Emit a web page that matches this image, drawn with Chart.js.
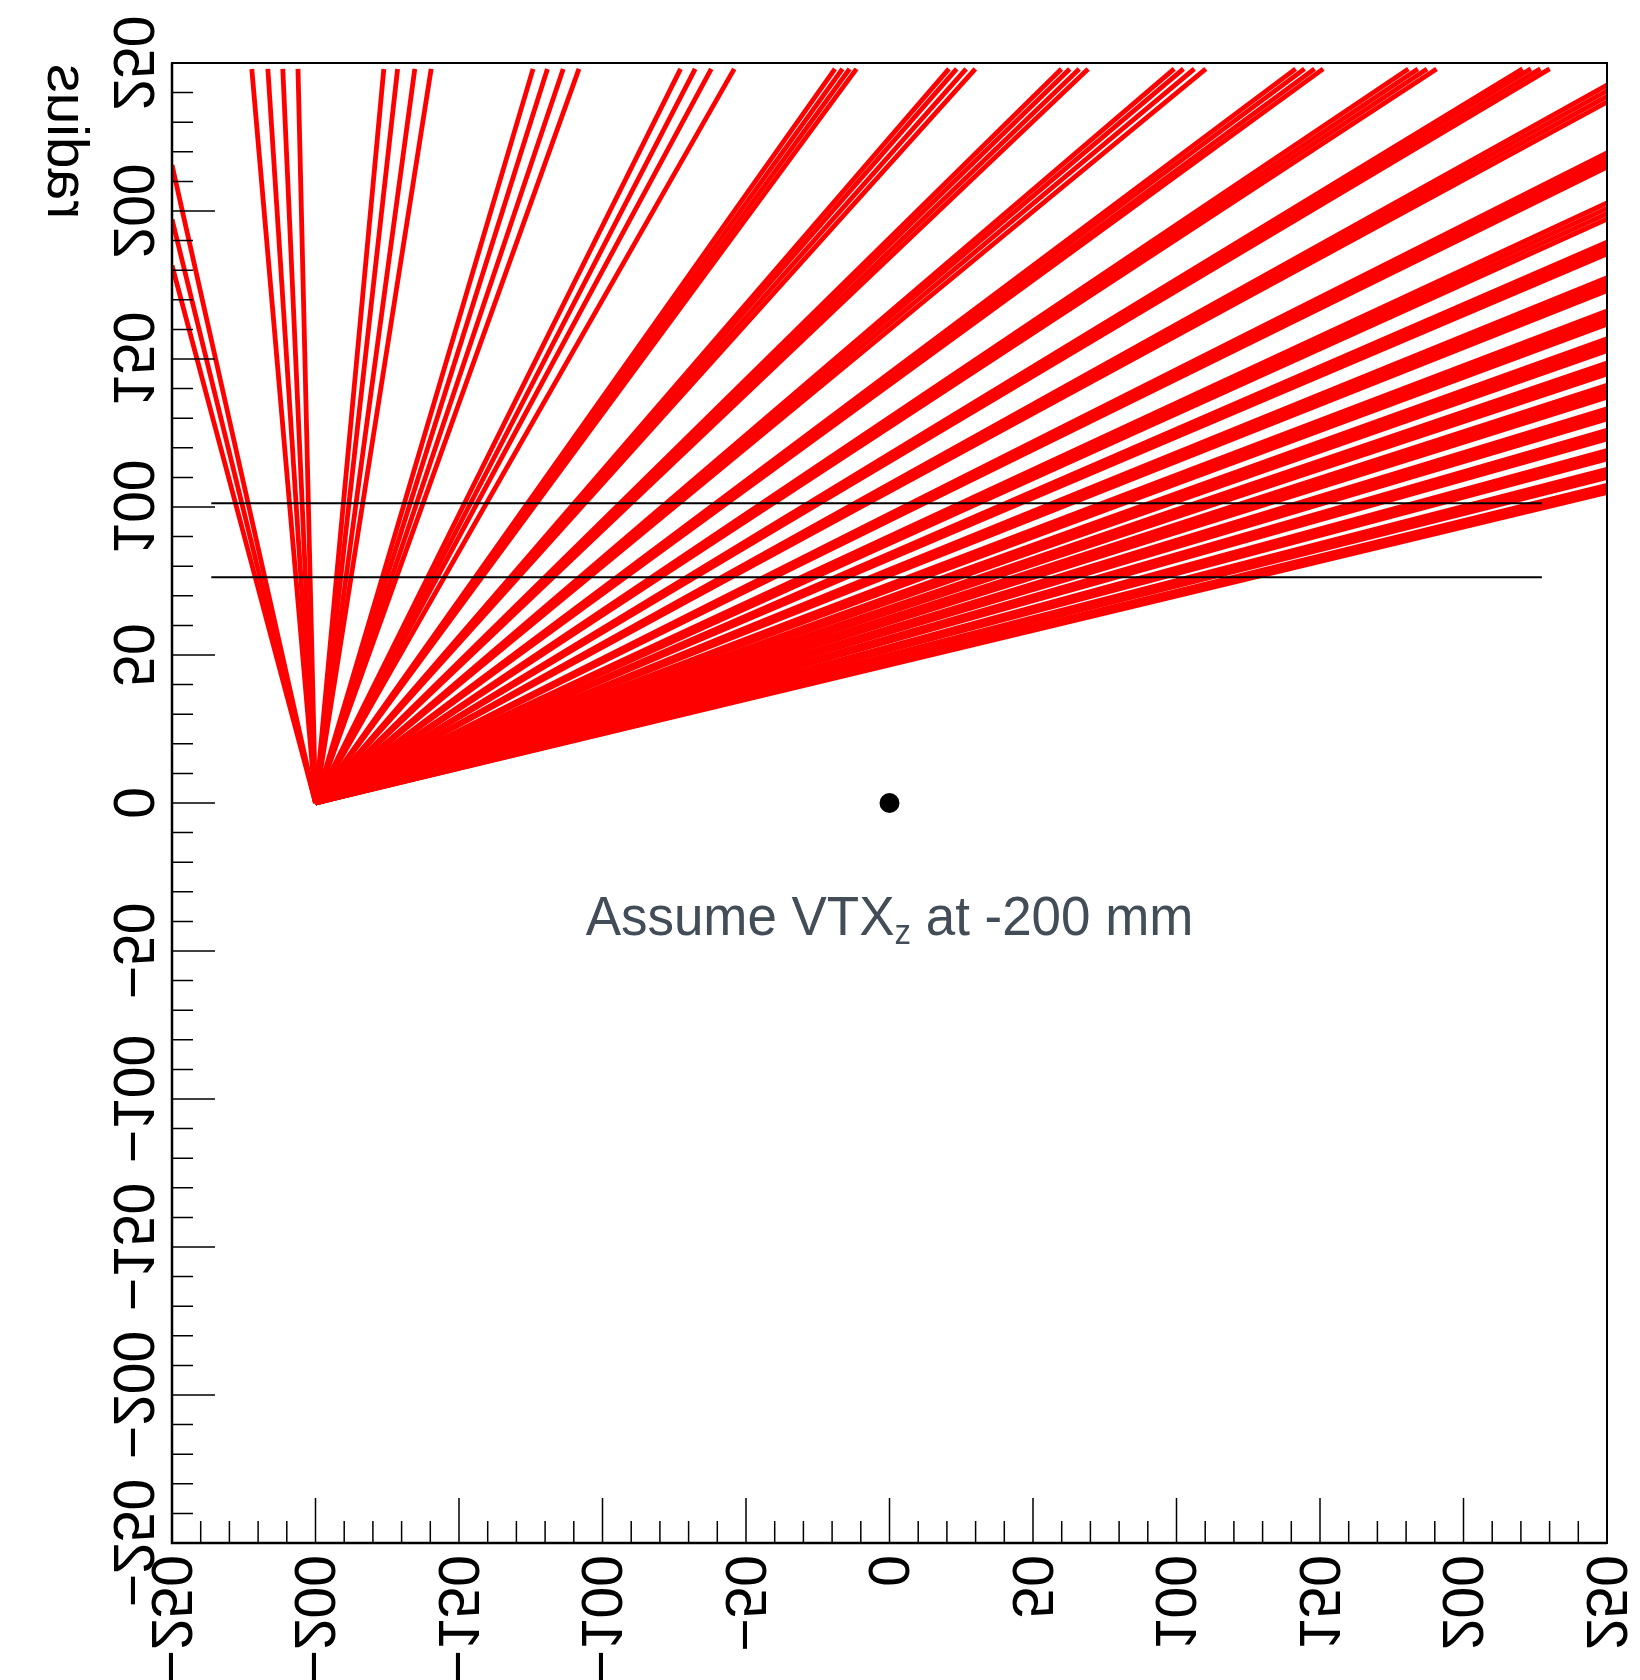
<!DOCTYPE html>
<html>
<head>
<meta charset="utf-8">
<script src="https://cdn.jsdelivr.net/npm/chart.js@4.4.1/dist/chart.umd.min.js"></script>
<style>
  html, body { margin: 0; padding: 0; background: #fff; }
  canvas { display: block; }
</style>
</head>
<body>
<canvas id="chart" width="1640" height="1680"></canvas>
<script>
// vertex of all tracks (z, radius) in mm
const vertexZ = -200;
const vertexR = 0;

// tracks leaving through the top (radius ~248): end z
const topR = 248;
const topEndZ = [
  -222.2, -216.6, -211.4, -206.1,
  -176.2, -171.4, -165.4, -159.7,
  -124.2, -119.2, -113.7, -108.2,
  -72.8, -67.7, -62.1, -54.1,
  -19.0, -16.4, -13.9, -11.5,
  20.7, 23.4, 26.7, 29.9,
  59.9, 62.8, 66.1, 69.2,
  99.2, 102.4, 106.2, 110.2,
  141.5, 144.6, 148.1, 151.1,
  180.8, 184.1, 187.3, 190.6,
  220.6, 223.5, 226.8, 230.0
];

// tracks leaving through the left side (z = -250): end radius
const leftZ = -250;
const leftEndR = [215.5, 197.2, 181.6];

// tracks leaving through the right side (z = 250): end radius
const rightZ = 250;
const rightEndR = [
  242.5, 240.6, 238.7, 236.8,
  219.6, 218.0, 216.4, 214.8,
  202.7, 200.9, 199.1, 197.3,
  189.5, 188.2, 186.8, 185.5,
  177.5, 176.0, 174.6, 173.1,
  166.2, 164.8, 163.3, 161.8,
  156.8, 155.5, 154.2, 152.8,
  148.6, 147.4, 146.2, 144.9,
  141.1, 139.8, 138.4, 137.1,
  133.2, 132.0, 130.9, 129.7,
  125.9, 124.9, 123.9, 123.0,
  119.1, 118.1, 117.2, 116.2,
  112.7, 111.8, 110.9, 110.0,
  107.3, 106.5, 105.6, 104.9
];

// two detector layers
const layerR = [101.3, 76.3];
const layerZ = [-236.3, 227.3];

// beam spot
const spotZ = [0];
const spotR = [0];

const xTicks = [-250, -200, -150, -100, -50, 0, 50, 100, 150, 200, 250];
const xTickLabels = ['\u2212250', '\u2212200', '\u2212150', '\u2212100', '\u221250', '0', '50', '100', '150', '200', '250'];
const yTicks = [-250, -200, -150, -100, -50, 0, 50, 100, 150, 200, 250];
const yTickLabels = ['\u2212250', '\u2212200', '\u2212150', '\u2212100', '\u221250', '0', '50', '100', '150', '200', '250'];

const labelFont = '57px "Liberation Sans", Arial, sans-serif';

function track(z, r) {
  return {
    data: [{ x: vertexZ, y: vertexR }, { x: z, y: r }],
    showLine: true,
    borderColor: '#ff0000',
    borderWidth: 4.8,
    pointRadius: 0,
    clip: 0,
    order: 2
  };
}

const datasets = [];
spotZ.forEach((z, i) => {
  datasets.push({
    data: [{ x: z, y: spotR[i] }],
    pointRadius: 10,
    pointBackgroundColor: '#000',
    pointBorderWidth: 0,
    order: 0
  });
});
layerR.forEach(r => {
  datasets.push({
    data: [{ x: layerZ[0], y: r }, { x: layerZ[1], y: r }],
    showLine: true,
    borderColor: '#000',
    borderWidth: 2,
    pointRadius: 0,
    order: 1
  });
});
topEndZ.forEach(z => datasets.push(track(z, topR)));
leftEndR.forEach(r => datasets.push(track(leftZ, r)));
rightEndR.forEach(r => datasets.push(track(rightZ, r)));

// text flipped the way the original shows it: reads upwards, glyphs mirrored
function flippedText(ctx, text, px, py, align) {
  ctx.save();
  ctx.translate(px, py);
  ctx.transform(0, -1, -1, 0, 0, 0);
  ctx.textAlign = align;
  ctx.fillText(text, 0, 0);
  ctx.restore();
}

const rootAxes = {
  id: 'rootAxes',
  afterDatasetsDraw(chart) {
    const { ctx, chartArea: a, scales: { x, y } } = chart;
    ctx.save();
    ctx.strokeStyle = '#000';
    ctx.lineWidth = 2;
    ctx.strokeRect(a.left, a.top, a.right - a.left, a.bottom - a.top);
    ctx.lineWidth = 2.5;
    ctx.beginPath();
    ctx.moveTo(a.left, a.top);
    ctx.lineTo(a.left, a.bottom);
    ctx.lineTo(a.right, a.bottom);
    ctx.stroke();

    // inner tick marks, every 10 mm, longer every 50 mm
    ctx.lineWidth = 1.5;
    ctx.beginPath();
    for (let v = -250; v <= 250; v += 10) {
      const major = v % 50 === 0;
      const px = x.getPixelForValue(v);
      ctx.moveTo(px, a.bottom);
      ctx.lineTo(px, a.bottom - (major ? 45 : 22));
      const py = y.getPixelForValue(v);
      ctx.moveTo(a.left, py);
      ctx.lineTo(a.left + (major ? 43 : 21), py);
    }
    ctx.stroke();

    ctx.fillStyle = '#000';
    ctx.font = labelFont;
    ctx.textBaseline = 'alphabetic';
    xTicks.forEach((v, i) => {
      flippedText(ctx, xTickLabels[i], x.getPixelForValue(v) - 20.5, a.bottom + 12, 'right');
    });
    yTicks.forEach((v, i) => {
      flippedText(ctx, yTickLabels[i], a.left - 58.5, y.getPixelForValue(v), 'center');
    });

    // axis title
    flippedText(ctx, 'radius', 48, a.top + 1, 'right');
    ctx.restore();
  }
};

const note = {
  id: 'note',
  afterDraw(chart) {
    const { ctx, scales: { x, y } } = chart;
    const main = '56px "Liberation Sans", Arial, sans-serif';
    const small = '35px "Liberation Sans", Arial, sans-serif';
    const parts = [['Assume VTX', main, 0], ['z', small, 9], [' at -200 mm', main, 0]];
    const squeeze = 0.945;
    ctx.save();
    ctx.fillStyle = '#434d57';
    ctx.textBaseline = 'alphabetic';
    ctx.textAlign = 'left';
    let total = 0;
    parts.forEach(p => { ctx.font = p[1]; total += ctx.measureText(p[0]).width; });
    ctx.translate(x.getPixelForValue(0) - total * squeeze / 2, y.getPixelForValue(-44.6));
    ctx.scale(squeeze, 1);
    let cx = 0;
    parts.forEach(p => {
      ctx.font = p[1];
      ctx.fillText(p[0], cx, p[2]);
      cx += ctx.measureText(p[0]).width;
    });
    ctx.restore();
  }
};

new Chart(document.getElementById('chart'), {
  type: 'scatter',
  data: { datasets },
  options: {
    responsive: false,
    animation: false,
    events: [],
    layout: {
      padding: { left: 172, top: 63, right: 33, bottom: 137 }
    },
    plugins: {
      legend: { display: false },
      tooltip: { enabled: false }
    },
    scales: {
      x: { type: 'linear', min: -250, max: 250, display: false },
      y: { type: 'linear', min: -250, max: 250, display: false }
    }
  },
  plugins: [rootAxes, note]
});
</script>
</body>
</html>
